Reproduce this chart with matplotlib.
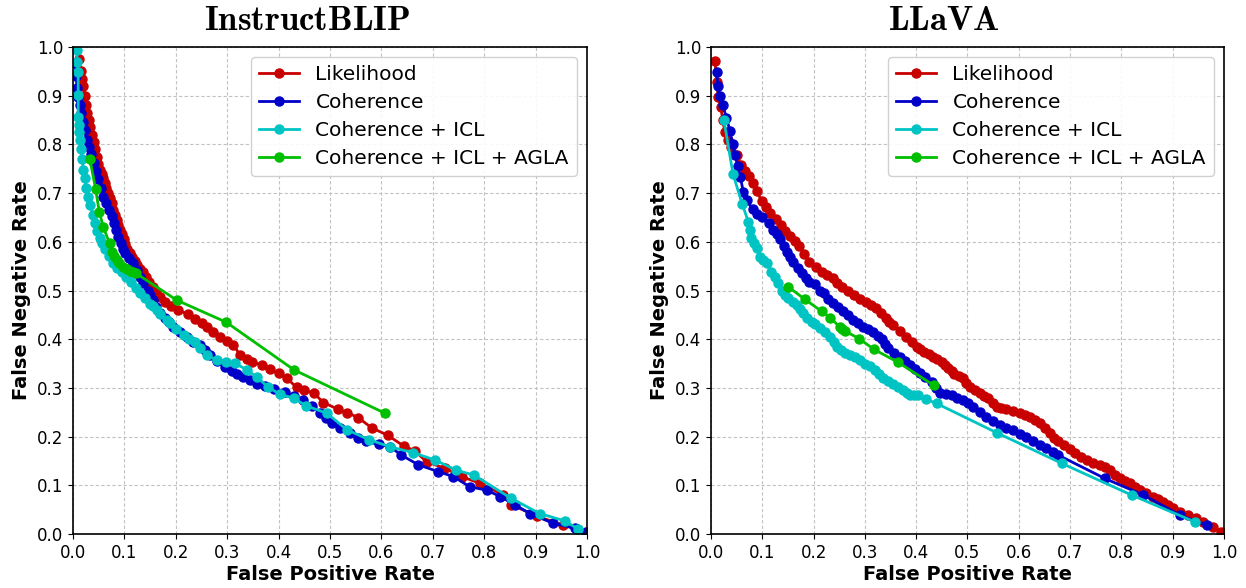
import matplotlib
matplotlib.use("Agg")
import matplotlib.pyplot as plt

plt.rcParams["mathtext.fontset"] = "cm"

# ---------------- InstructBLIP ----------------
blip_likelihood_fpr = [0.012, 0.015, 0.018, 0.020, 0.023, 0.026, 0.028, 0.031, 0.034, 0.037, 0.040, 0.043,
                       0.046, 0.049, 0.053, 0.056, 0.059, 0.062, 0.065, 0.069, 0.072, 0.075, 0.078, 0.081,
                       0.085, 0.088, 0.092, 0.095, 0.099, 0.102, 0.106, 0.110, 0.115, 0.120, 0.125, 0.130,
                       0.136, 0.142, 0.148, 0.155, 0.162, 0.170, 0.178, 0.190, 0.205, 0.224, 0.237, 0.250,
                       0.260, 0.273, 0.286, 0.299, 0.312, 0.325, 0.338, 0.348, 0.367, 0.383, 0.400, 0.416,
                       0.435, 0.449, 0.469, 0.487, 0.516, 0.534, 0.555, 0.581, 0.612, 0.643, 0.665, 0.688,
                       0.724, 0.756, 0.792, 0.837, 0.853, 0.902, 0.954, 0.980, 1.000]
blip_likelihood_fnr = [0.975, 0.950, 0.935, 0.920, 0.900, 0.880, 0.865, 0.850, 0.835, 0.820, 0.805, 0.790,
                       0.775, 0.760, 0.748, 0.740, 0.730, 0.720, 0.710, 0.700, 0.690, 0.680, 0.665, 0.655,
                       0.645, 0.635, 0.625, 0.615, 0.605, 0.595, 0.585, 0.577, 0.568, 0.560, 0.553, 0.545,
                       0.537, 0.528, 0.518, 0.507, 0.496, 0.486, 0.477, 0.468, 0.460, 0.451, 0.441, 0.433,
                       0.426, 0.415, 0.405, 0.396, 0.388, 0.368, 0.359, 0.354, 0.347, 0.338, 0.330, 0.320,
                       0.301, 0.296, 0.289, 0.270, 0.256, 0.249, 0.239, 0.218, 0.203, 0.181, 0.171, 0.148,
                       0.135, 0.118, 0.104, 0.080, 0.060, 0.037, 0.018, 0.010, 0.003]

blip_coherence_fpr = [0.004, 0.006, 0.008, 0.010, 0.013, 0.016, 0.020, 0.023, 0.027, 0.031, 0.035, 0.040,
                      0.044, 0.049, 0.054, 0.059, 0.064, 0.070, 0.075, 0.080, 0.084, 0.088, 0.093, 0.097,
                      0.101, 0.108, 0.117, 0.124, 0.130, 0.137, 0.145, 0.150, 0.156, 0.162, 0.169, 0.178,
                      0.186, 0.195, 0.208, 0.221, 0.234, 0.247, 0.257, 0.267, 0.280, 0.296, 0.309, 0.320,
                      0.331, 0.344, 0.357, 0.373, 0.392, 0.412, 0.430, 0.448, 0.465, 0.481, 0.492, 0.503,
                      0.520, 0.539, 0.555, 0.571, 0.595, 0.617, 0.639, 0.672, 0.711, 0.740, 0.772, 0.805,
                      0.831, 0.860, 0.889, 0.934, 0.977, 0.999]
blip_coherence_fnr = [0.967, 0.940, 0.915, 0.898, 0.880, 0.865, 0.845, 0.830, 0.810, 0.795, 0.780, 0.761,
                      0.745, 0.728, 0.710, 0.693, 0.680, 0.665, 0.652, 0.638, 0.624, 0.610, 0.597, 0.586,
                      0.576, 0.566, 0.556, 0.543, 0.528, 0.515, 0.500, 0.490, 0.480, 0.466, 0.453, 0.443,
                      0.435, 0.426, 0.415, 0.405, 0.395, 0.388, 0.378, 0.368, 0.356, 0.342, 0.335, 0.329,
                      0.323, 0.316, 0.309, 0.304, 0.298, 0.292, 0.283, 0.275, 0.262, 0.249, 0.238, 0.227,
                      0.218, 0.207, 0.198, 0.190, 0.184, 0.179, 0.162, 0.142, 0.128, 0.118, 0.097, 0.090,
                      0.077, 0.060, 0.042, 0.022, 0.012, 0.005]

blip_icl_fpr = [0.007, 0.008, 0.010, 0.010, 0.010, 0.011, 0.012, 0.014, 0.016, 0.018, 0.020, 0.023,
                0.026, 0.030, 0.034, 0.038, 0.043, 0.047, 0.052, 0.056, 0.062, 0.070, 0.078, 0.086,
                0.095, 0.104, 0.113, 0.122, 0.130, 0.140, 0.150, 0.156, 0.163, 0.170, 0.182, 0.189,
                0.200, 0.215, 0.225, 0.237, 0.248, 0.260, 0.280, 0.297, 0.315, 0.338, 0.357, 0.380,
                0.403, 0.429, 0.454, 0.494, 0.533, 0.575, 0.617, 0.662, 0.704, 0.746, 0.780, 0.853,
                0.908, 0.957, 0.983]
blip_icl_fnr = [0.994, 0.970, 0.949, 0.901, 0.857, 0.840, 0.825, 0.809, 0.790, 0.770, 0.747, 0.730,
                0.710, 0.693, 0.675, 0.655, 0.638, 0.622, 0.608, 0.597, 0.585, 0.570, 0.556, 0.547,
                0.537, 0.528, 0.517, 0.505, 0.494, 0.484, 0.473, 0.468, 0.460, 0.452, 0.439, 0.433,
                0.420, 0.409, 0.400, 0.395, 0.382, 0.368, 0.357, 0.354, 0.351, 0.337, 0.323, 0.301,
                0.287, 0.279, 0.263, 0.248, 0.214, 0.194, 0.179, 0.167, 0.152, 0.131, 0.121, 0.073,
                0.042, 0.027, 0.010]

blip_agla_fpr = [0.033, 0.044, 0.051, 0.059, 0.071, 0.075, 0.080, 0.085, 0.090, 0.098, 0.105, 0.111,
                 0.117, 0.123, 0.202, 0.298, 0.430, 0.607]
blip_agla_fnr = [0.769, 0.708, 0.662, 0.630, 0.597, 0.580, 0.570, 0.563, 0.557, 0.549, 0.545, 0.541,
                 0.538, 0.535, 0.480, 0.435, 0.337, 0.248]

# ---------------- LLaVA ----------------
llava_likelihood_fpr = [0.008, 0.011, 0.014, 0.019, 0.023, 0.027, 0.033, 0.040, 0.050, 0.058, 0.066, 0.075,
                        0.082, 0.089, 0.099, 0.107, 0.115, 0.126, 0.136, 0.145, 0.154, 0.163, 0.172, 0.182,
                        0.192, 0.204, 0.216, 0.226, 0.237, 0.246, 0.256, 0.268, 0.279, 0.290, 0.302, 0.311,
                        0.321, 0.331, 0.341, 0.347, 0.354, 0.368, 0.381, 0.391, 0.401, 0.408, 0.416, 0.425,
                        0.433, 0.441, 0.450, 0.456, 0.463, 0.469, 0.474, 0.483, 0.492, 0.498, 0.505, 0.514,
                        0.524, 0.532, 0.541, 0.549, 0.557, 0.566, 0.576, 0.589, 0.602, 0.612, 0.622, 0.632,
                        0.641, 0.651, 0.661, 0.669, 0.677, 0.688, 0.700, 0.710, 0.721, 0.733, 0.745, 0.758,
                        0.768, 0.778, 0.788, 0.797, 0.807, 0.817, 0.827, 0.836, 0.849, 0.862, 0.872, 0.882,
                        0.891, 0.901, 0.915, 0.930, 0.945, 0.960, 0.979, 0.995]
llava_likelihood_fnr = [0.971, 0.929, 0.898, 0.877, 0.850, 0.826, 0.810, 0.795, 0.778, 0.758, 0.746, 0.735,
                        0.720, 0.704, 0.684, 0.672, 0.660, 0.647, 0.634, 0.623, 0.612, 0.602, 0.592, 0.575,
                        0.559, 0.549, 0.539, 0.532, 0.525, 0.516, 0.508, 0.499, 0.490, 0.483, 0.476, 0.470,
                        0.464, 0.453, 0.443, 0.436, 0.429, 0.417, 0.404, 0.394, 0.385, 0.380, 0.374, 0.369,
                        0.364, 0.359, 0.354, 0.347, 0.340, 0.334, 0.329, 0.325, 0.320, 0.311, 0.302, 0.296,
                        0.289, 0.284, 0.279, 0.270, 0.261, 0.258, 0.256, 0.252, 0.248, 0.245, 0.241, 0.234,
                        0.227, 0.217, 0.207, 0.198, 0.190, 0.183, 0.174, 0.166, 0.159, 0.152, 0.145, 0.142,
                        0.137, 0.131, 0.122, 0.114, 0.109, 0.104, 0.097, 0.090, 0.084, 0.077, 0.072, 0.066,
                        0.060, 0.053, 0.046, 0.039, 0.032, 0.025, 0.015, 0.005]

llava_coherence_fpr = [0.011, 0.014, 0.017, 0.023, 0.030, 0.037, 0.042, 0.047, 0.052, 0.057, 0.063, 0.070,
                       0.081, 0.090, 0.099, 0.114, 0.120, 0.128, 0.135, 0.142, 0.148, 0.154, 0.160, 0.170,
                       0.177, 0.185, 0.192, 0.203, 0.212, 0.220, 0.229, 0.238, 0.248, 0.258, 0.268, 0.277,
                       0.287, 0.297, 0.306, 0.316, 0.325, 0.333, 0.340, 0.346, 0.357, 0.368, 0.378, 0.388,
                       0.398, 0.407, 0.418, 0.430, 0.438, 0.446, 0.458, 0.469, 0.480, 0.492, 0.502, 0.511,
                       0.524, 0.537, 0.550, 0.563, 0.576, 0.589, 0.602, 0.615, 0.628, 0.641, 0.654, 0.667,
                       0.677, 0.768, 0.843, 0.914, 0.966]
llava_coherence_fnr = [0.948, 0.920, 0.900, 0.881, 0.855, 0.828, 0.800, 0.778, 0.755, 0.734, 0.703, 0.686,
                       0.667, 0.658, 0.650, 0.639, 0.624, 0.615, 0.605, 0.592, 0.580, 0.569, 0.559, 0.546,
                       0.536, 0.525, 0.518, 0.513, 0.500, 0.495, 0.483, 0.474, 0.466, 0.458, 0.450, 0.440,
                       0.433, 0.426, 0.421, 0.415, 0.406, 0.400, 0.390, 0.381, 0.372, 0.364, 0.355, 0.347,
                       0.338, 0.330, 0.322, 0.313, 0.300, 0.289, 0.287, 0.285, 0.280, 0.275, 0.268, 0.261,
                       0.251, 0.241, 0.232, 0.224, 0.218, 0.213, 0.206, 0.200, 0.192, 0.183, 0.176, 0.169,
                       0.162, 0.114, 0.080, 0.039, 0.018]

llava_icl_fpr = [0.025, 0.043, 0.061, 0.073, 0.076, 0.079, 0.084, 0.089, 0.096, 0.102, 0.109, 0.118,
                 0.125, 0.131, 0.138, 0.145, 0.151, 0.159, 0.167, 0.174, 0.180, 0.188, 0.196, 0.203,
                 0.212, 0.222, 0.232, 0.239, 0.245, 0.253, 0.261, 0.271, 0.281, 0.291, 0.300, 0.310,
                 0.320, 0.328, 0.336, 0.345, 0.355, 0.365, 0.375, 0.382, 0.388, 0.396, 0.404, 0.419,
                 0.440, 0.557, 0.684, 0.820, 0.943]
llava_icl_fnr = [0.851, 0.739, 0.677, 0.641, 0.625, 0.607, 0.597, 0.587, 0.569, 0.562, 0.556, 0.539,
                 0.527, 0.515, 0.498, 0.491, 0.484, 0.477, 0.470, 0.461, 0.453, 0.444, 0.436, 0.431,
                 0.422, 0.414, 0.405, 0.395, 0.385, 0.378, 0.371, 0.368, 0.364, 0.357, 0.350, 0.344,
                 0.337, 0.328, 0.320, 0.315, 0.309, 0.302, 0.296, 0.290, 0.285, 0.285, 0.285, 0.277,
                 0.268, 0.208, 0.145, 0.080, 0.025]

llava_agla_fpr = [0.150, 0.183, 0.216, 0.233, 0.251, 0.256, 0.261, 0.289, 0.318, 0.364, 0.435]
llava_agla_fnr = [0.508, 0.482, 0.457, 0.444, 0.425, 0.421, 0.417, 0.401, 0.379, 0.353, 0.305]

method_names = ["Likelihood", "Coherence", "Coherence + ICL", "Coherence + ICL + AGLA"]
method_colors = ["#c80000", "#0000c8", "#00c4c4", "#00be00"]

panels = [
    (r"$\mathbf{InstructBLIP}$",
     [(blip_likelihood_fpr, blip_likelihood_fnr),
      (blip_coherence_fpr, blip_coherence_fnr),
      (blip_icl_fpr, blip_icl_fnr),
      (blip_agla_fpr, blip_agla_fnr)]),
    (r"$\mathbf{LLaVA}$",
     [(llava_likelihood_fpr, llava_likelihood_fnr),
      (llava_coherence_fpr, llava_coherence_fnr),
      (llava_icl_fpr, llava_icl_fnr),
      (llava_agla_fpr, llava_agla_fnr)]),
]

fig = plt.figure(figsize=(12.46, 5.88), dpi=100)
ax_left = fig.add_axes([0.0586, 0.0918, 0.4125, 0.8283])
ax_right = fig.add_axes([0.5706, 0.0918, 0.4117, 0.8283])

ticks = [i / 10 for i in range(11)]
tick_labels = [f"{t:.1f}" for t in ticks]

for ax, (title, series) in zip([ax_left, ax_right], panels):
    for (xs, ys), name, color in zip(series, method_names, method_colors):
        ax.plot(xs, ys, "-o", color=color, label=name, linewidth=2.0,
                markersize=6.5, clip_on=True)
    ax.set_xlim(0, 1)
    ax.set_ylim(0, 1)
    ax.set_xticks(ticks)
    ax.set_yticks(ticks)
    ax.set_xticklabels(tick_labels, fontsize=12)
    ax.set_yticklabels(tick_labels, fontsize=12)
    ax.grid(True, linestyle=(0, (3, 2)), color="#c2c2c2", linewidth=0.8)
    ax.set_axisbelow(True)
    ax.set_xlabel("False Positive Rate", fontsize=14, fontweight="bold", labelpad=2)
    ax.set_ylabel("False Negative Rate", fontsize=14, fontweight="bold", labelpad=4)
    ax.set_title(title, fontsize=25, pad=12, x=0.455)
    for spine in ax.spines.values():
        spine.set_linewidth(1.2)
    ax.legend(loc="upper right", fontsize=14.5, framealpha=0.9, borderpad=0.4,
              labelspacing=0.45)

fig.savefig("out.png", dpi=100)
